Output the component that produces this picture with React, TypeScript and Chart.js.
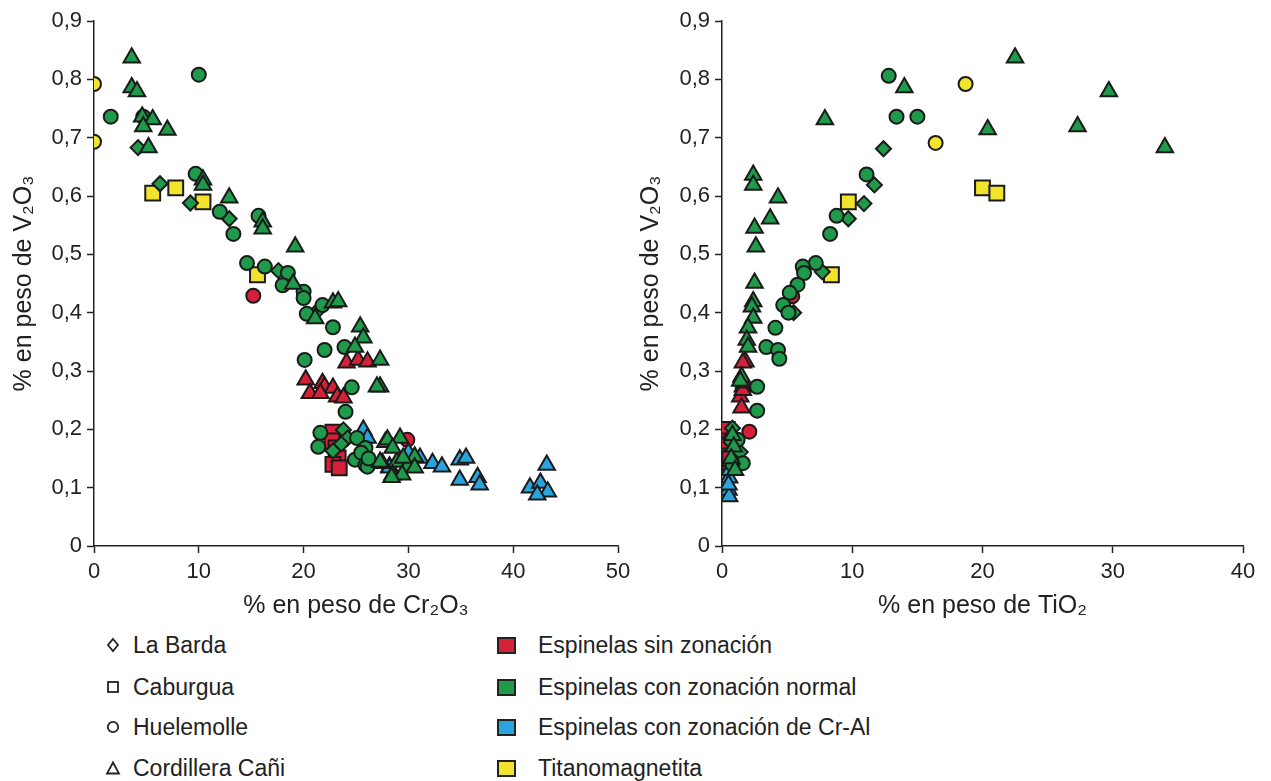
import React, { useEffect, useRef } from 'react';
import { Chart, registerables } from 'chart.js';
Chart.register(...registerables);

const FONT = "'Liberation Sans', Arial, Helvetica, sans-serif";
const RED = '#D42038';
const GREEN = '#1F994A';
const BLUE = '#2AA4DD';
const YELLOW = '#F2E42C';

// Tick labels
const yTickLabels = ['0', '0,1', '0,2', '0,3', '0,4', '0,5', '0,6', '0,7', '0,8', '0,9'];
const crTickLabels = ['0', '10', '20', '30', '40', '50'];
const tiTickLabels = ['0', '10', '20', '30', '40'];

// ---------- Left panel: % Cr2O3 vs % V2O3 ----------
const crHuelemolleTitano = [[0, 0.792], [0, 0.693]];
const crHuelemolleNormal = [
  [10.0, 0.808], [1.6, 0.736], [4.7, 0.736], [9.7, 0.638], [12.0, 0.573], [13.3, 0.535],
  [15.7, 0.566], [14.6, 0.485], [16.3, 0.479], [18.5, 0.468], [18.0, 0.447], [20.0, 0.436],
  [20.0, 0.425], [21.8, 0.413], [20.3, 0.398], [22.8, 0.375], [23.9, 0.341], [22.0, 0.336],
  [20.1, 0.319], [24.6, 0.272], [24.0, 0.230], [21.6, 0.194], [21.4, 0.170], [25.1, 0.185],
  [25.9, 0.168], [24.9, 0.148], [25.9, 0.139], [26.1, 0.136], [25.5, 0.160], [26.2, 0.150],
];
const crHuelemolleSin = [[15.2, 0.429], [29.9, 0.182]];
const crLaBardaNormal = [
  [4.2, 0.683], [6.3, 0.621], [9.2, 0.588], [12.9, 0.561], [17.6, 0.472], [21.2, 0.401],
  [23.8, 0.199], [24.2, 0.185], [23.6, 0.175], [22.8, 0.163],
];
const crCaburguaTitano = [[5.6, 0.605], [7.8, 0.614], [10.4, 0.590], [15.6, 0.465]];
const crCaburguaSin = [[22.8, 0.195], [22.7, 0.180], [23.1, 0.168], [23.3, 0.151], [22.8, 0.140], [23.4, 0.134]];
const crCaniNormal = [
  [3.6, 0.837], [3.6, 0.786], [4.1, 0.779], [4.6, 0.736], [5.6, 0.731], [4.7, 0.719],
  [7.0, 0.713], [5.2, 0.683], [10.4, 0.628], [10.4, 0.619], [12.9, 0.597], [16.1, 0.556],
  [16.1, 0.544], [19.2, 0.513], [19.0, 0.449], [21.1, 0.390], [22.8, 0.417], [23.3, 0.419],
  [25.4, 0.376], [25.7, 0.357], [24.9, 0.341], [27.3, 0.319], [27.3, 0.273], [27.0, 0.273],
  [29.2, 0.185], [27.5, 0.142], [28.9, 0.144], [28.5, 0.122], [29.9, 0.136], [30.6, 0.153],
  [28.0, 0.182], [28.5, 0.168], [29.5, 0.151], [30.6, 0.134], [29.4, 0.122], [28.4, 0.118],
  [27.3, 0.144],
];
const crCaniSin = [
  [24.1, 0.314], [25.2, 0.319], [26.1, 0.316], [20.2, 0.285], [20.6, 0.262], [21.8, 0.279],
  [22.0, 0.273], [22.8, 0.271], [23.2, 0.256], [23.8, 0.254], [21.6, 0.262],
];
const crCaniCrAl = [
  [25.7, 0.199], [26.1, 0.185], [27.8, 0.178], [28.2, 0.136], [30.0, 0.160], [31.1, 0.151],
  [32.3, 0.142], [33.2, 0.136], [34.9, 0.148], [35.5, 0.151], [34.9, 0.113], [36.6, 0.118],
  [36.8, 0.105], [43.2, 0.139], [41.6, 0.100], [42.6, 0.108], [43.3, 0.093], [42.3, 0.088],
  [28.2, 0.134],
];

// ---------- Right panel: % TiO2 vs % V2O3 ----------
const tiHuelemolleTitano = [[18.7, 0.792], [16.4, 0.691]];
const tiHuelemolleNormal = [
  [12.8, 0.806], [13.4, 0.736], [15.0, 0.736], [11.1, 0.637], [8.8, 0.566], [8.3, 0.535],
  [7.2, 0.485], [6.2, 0.479], [6.3, 0.468], [5.8, 0.448], [5.2, 0.434], [4.7, 0.413],
  [5.1, 0.400], [4.1, 0.374], [3.4, 0.341], [4.3, 0.336], [4.4, 0.321], [2.7, 0.273],
  [2.7, 0.232], [1.6, 0.142], [1.2, 0.182], [0.8, 0.140],
];
const tiHuelemolleSin = [[5.4, 0.428], [2.1, 0.196]];
const tiLaBardaNormal = [
  [12.4, 0.681], [11.7, 0.619], [10.9, 0.587], [9.7, 0.561], [7.7, 0.470], [5.5, 0.400],
  [1.4, 0.161], [0.6, 0.185], [0.8, 0.202], [0.7, 0.178],
];
const tiCaburguaTitano = [[9.7, 0.590], [20.0, 0.614], [21.1, 0.605], [8.4, 0.465]];
const tiCaburguaSin = [[0.6, 0.142], [0.5, 0.165], [0.4, 0.200], [0.5, 0.180], [0.6, 0.150]];
const tiCaniNormal = [
  [22.5, 0.837], [14.0, 0.786], [29.7, 0.779], [7.9, 0.731], [20.4, 0.714], [27.3, 0.719],
  [34.0, 0.683], [2.4, 0.636], [2.4, 0.619], [4.3, 0.597], [3.7, 0.561], [2.5, 0.545],
  [2.6, 0.513], [2.5, 0.451], [2.4, 0.419], [2.3, 0.410], [2.4, 0.391], [2.0, 0.374],
  [1.9, 0.353], [2.0, 0.341], [1.5, 0.290], [1.4, 0.283], [0.8, 0.190], [0.9, 0.170],
  [0.7, 0.150], [1.0, 0.130],
];
const tiCaniSin = [[1.8, 0.316], [1.6, 0.314], [1.6, 0.273], [1.4, 0.256], [1.5, 0.237], [1.6, 0.267], [1.7, 0.280]];
const tiCaniCrAl = [[0.55, 0.117], [0.5, 0.096], [0.55, 0.085], [0.5, 0.105], [0.6, 0.130]];

// Legend
const localities = ['La Barda', 'Caburgua', 'Huelemolle', 'Cordillera Cañi'];
const spinelTypes = ['Espinelas sin zonación', 'Espinelas con zonación normal', 'Espinelas con zonación de Cr-Al', 'Titanomagnetita'];
const typeColors = [RED, GREEN, BLUE, YELLOW];

const STYLE: Record<string, { ps: string; r: number }> = {
  circle: { ps: 'circle', r: 7 },
  diamond: { ps: 'rectRot', r: 7.5 },
  square: { ps: 'rect', r: 10.5 },
  triangle: { ps: 'triangle', r: 9.5 },
};

function ds(points: number[][], shape: string, color: string) {
  const s = STYLE[shape];
  return {
    data: points.map(([x, y]) => ({ x, y })),
    pointStyle: s.ps,
    pointRadius: s.r,
    pointHoverRadius: s.r,
    backgroundColor: color,
    borderColor: '#1a1a1a',
    pointBorderWidth: 2,
    showLine: false,
  };
}

type PanelProps = {
  left: number; width: number; height: number; xMax: number; xTicks: string[];
  xTitle: string; yWidth: number; padRight: number; yTitlePad: number; datasets: any[];
};

function Panel(p: PanelProps) {
  const ref = useRef<HTMLCanvasElement>(null);
  useEffect(() => {
    const chart = new Chart(ref.current!, {
      type: 'scatter',
      data: { datasets: p.datasets },
      options: {
        animation: false,
        responsive: false,
        devicePixelRatio: 1,
        events: [],
        layout: { padding: { top: 21, right: p.padRight, left: 0, bottom: 0 } },
        plugins: { legend: { display: false }, tooltip: { enabled: false } },
        scales: {
          x: {
            type: 'linear', min: 0, max: p.xMax,
            afterFit: (s: any) => { s.height = p.height - 546; },
            ticks: {
              stepSize: 10, padding: 6, color: '#222',
              font: { family: FONT, size: 22 },
              callback: (_v: any, i: number) => p.xTicks[i],
            },
            grid: { drawOnChartArea: false, drawTicks: true, tickLength: 7, tickColor: '#222', tickWidth: 1.5 },
            border: { display: true, color: '#222', width: 1.5 },
            title: {
              display: true, text: p.xTitle, color: '#222',
              font: { family: FONT, size: 25 }, padding: { top: 0, bottom: 9 },
            },
          },
          y: {
            type: 'linear', min: 0, max: 0.9,
            afterFit: (s: any) => { s.width = p.yWidth; },
            ticks: {
              stepSize: 0.1, padding: 5, color: '#222',
              font: { family: FONT, size: 22 },
              callback: (_v: any, i: number) => yTickLabels[i],
            },
            grid: { drawOnChartArea: false, drawTicks: true, tickLength: 7, tickColor: '#222', tickWidth: 1.5 },
            border: { display: true, color: '#222', width: 1.5 },
            title: {
              display: true, text: '% en peso de V₂O₃', color: '#222',
              font: { family: FONT, size: 25 }, padding: { top: p.yTitlePad, bottom: 0 },
            },
          },
        },
      } as any,
    });
    return () => chart.destroy();
  }, []);
  return (
    <canvas
      ref={ref}
      width={p.width}
      height={p.height}
      style={{ position: 'absolute', left: p.left, top: 0, width: p.width, height: p.height }}
    />
  );
}

function LocalitySymbol({ i }: { i: number }) {
  const st = { stroke: '#222', strokeWidth: 1.8, fill: 'none' };
  return (
    <svg width={16} height={16} viewBox="0 0 16 16" style={{ display: 'block' }}>
      {i === 0 && <polygon points="8,2 13,8 8,14 3,8" {...st} />}
      {i === 1 && <rect x={3} y={3} width={10} height={10} {...st} />}
      {i === 2 && <circle cx={8} cy={8} r={5.2} {...st} />}
      {i === 3 && <polygon points="8,2.5 14,13.5 2,13.5" {...st} />}
    </svg>
  );
}

export default function App() {
  const leftSets = [
    ds(crCaniNormal, 'triangle', GREEN),
    ds(crHuelemolleNormal, 'circle', GREEN),
    ds(crLaBardaNormal, 'diamond', GREEN),
    ds(crCaniCrAl, 'triangle', BLUE),
    ds(crCaniSin, 'triangle', RED),
    ds(crHuelemolleSin, 'circle', RED),
    ds(crCaburguaSin, 'square', RED),
    ds(crHuelemolleTitano, 'circle', YELLOW),
    ds(crCaburguaTitano, 'square', YELLOW),
  ];
  const rightSets = [
    ds(tiCaniNormal, 'triangle', GREEN),
    ds(tiHuelemolleNormal, 'circle', GREEN),
    ds(tiLaBardaNormal, 'diamond', GREEN),
    ds(tiCaniCrAl, 'triangle', BLUE),
    ds(tiCaniSin, 'triangle', RED),
    ds(tiHuelemolleSin, 'circle', RED),
    ds(tiCaburguaSin, 'square', RED),
    ds(tiHuelemolleTitano, 'circle', YELLOW),
    ds(tiCaburguaTitano, 'square', YELLOW),
  ];
  const rowY = [645, 687, 727, 768];
  return (
    <div style={{ position: 'absolute', left: 0, top: 0, width: 1271, height: 781, background: '#fff', overflow: 'hidden', fontFamily: FONT, color: '#222' }}>
      <Panel left={0} width={640} height={630} xMax={50} xTicks={crTickLabels}
        xTitle="% en peso de Cr₂O₃" yWidth={94} padRight={22} yTitlePad={9} datasets={leftSets} />
      <Panel left={630} width={641} height={630} xMax={40} xTicks={tiTickLabels}
        xTitle="% en peso de TiO₂" yWidth={92} padRight={28} yTitlePad={6} datasets={rightSets} />
      {localities.map((name, i) => (
        <div key={name} style={{ position: 'absolute', left: 105, top: rowY[i] - 14, height: 28, display: 'flex', alignItems: 'center' }}>
          <LocalitySymbol i={i} />
          <span style={{ marginLeft: 12, fontSize: 23, lineHeight: '28px' }}>{name}</span>
        </div>
      ))}
      {spinelTypes.map((name, i) => (
        <div key={name} style={{ position: 'absolute', left: 497, top: rowY[i] - 14, height: 28, display: 'flex', alignItems: 'center' }}>
          <div style={{ width: 15, height: 13, background: typeColors[i], border: '2px solid #222' }} />
          <span style={{ marginLeft: 22, fontSize: 23, lineHeight: '28px' }}>{name}</span>
        </div>
      ))}
    </div>
  );
}
